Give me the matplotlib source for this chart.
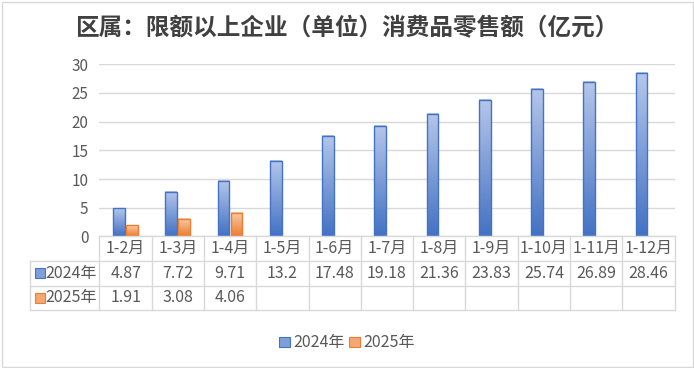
import numpy as np
import matplotlib
matplotlib.use('Agg')
import matplotlib.pyplot as plt
from matplotlib.patches import Rectangle
from matplotlib.colors import LinearSegmentedColormap

plt.rcParams['font.family'] = ['Noto Sans CJK SC', 'DejaVu Sans']

title = '区属：限额以上企业（单位）消费品零售额（亿元）'
categories = ['1-2月', '1-3月', '1-4月', '1-5月', '1-6月', '1-7月', '1-8月',
              '1-9月', '1-10月', '1-11月', '1-12月']
series_names = ['2024年', '2025年']
values_2024 = [4.87, 7.72, 9.71, 13.2, 17.48, 19.18, 21.36, 23.83, 25.74, 26.89, 28.46]
values_2025 = [1.91, 3.08, 4.06]
yticks = [0, 5, 10, 15, 20, 25, 30]

W, H = 694, 368
fig = plt.figure(figsize=(W / 100, H / 100), dpi=100)

# plot area in pixels of the reference
left_px, right_px, top_px, bottom_px = 99.5, 674.5, 64.3, 236.4
ax = fig.add_axes([left_px / W, 1 - bottom_px / H,
                   (right_px - left_px) / W, (bottom_px - top_px) / H])

text_col = '#595959'
grid_col = '#d9d9d9'

blue_cmap = LinearSegmentedColormap.from_list('b', ['#4472c4', '#b4c6ea'])
orange_cmap = LinearSegmentedColormap.from_list('o', ['#ed7d31', '#f9cba8'])
grad = np.linspace(0, 1, 64).reshape(-1, 1)

bar_w = 0.225
offsets = [-0.13, 0.12]


def grad_bar(x, h, cmap, edge):
    x0 = x - bar_w / 2
    ax.imshow(grad, extent=(x0, x0 + bar_w, 0, h), origin='lower', cmap=cmap,
              aspect='auto', zorder=3, interpolation='bicubic')
    ax.add_patch(Rectangle((x0, 0), bar_w, h, fill=False, edgecolor=edge,
                           linewidth=1.0, zorder=4))


for i, v in enumerate(values_2024):
    grad_bar(i + offsets[0], v, blue_cmap, '#4472c4')
for i, v in enumerate(values_2025):
    grad_bar(i + offsets[1], v, orange_cmap, '#ed7d31')

n = len(categories)
ax.set_xlim(-0.5, n - 0.5)
ax.set_ylim(0, 30)
ax.set_yticks(yticks)
ax.set_xticks([])
ax.yaxis.grid(True, color=grid_col, linewidth=1)
ax.set_axisbelow(True)
for s in ax.spines.values():
    s.set_visible(False)
ax.tick_params(axis='y', length=0, pad=8, labelsize=11, labelcolor=text_col)

# data table below the plot
row_px = [236.4, 261, 285.5, 309.5]
head_left_px = 30


def fy(px):
    return 1 - px / H


def fx(px):
    return px / W


col_w = (right_px - left_px) / n
lkw = dict(color=grid_col, linewidth=1, transform=fig.transFigure)
# horizontal lines
fig.add_artist(plt.Line2D([fx(left_px), fx(right_px)], [fy(row_px[0])] * 2, **lkw))
for r in row_px[1:]:
    fig.add_artist(plt.Line2D([fx(head_left_px), fx(right_px)], [fy(r)] * 2, **lkw))
# vertical lines
for j in range(n + 1):
    x = left_px + j * col_w
    fig.add_artist(plt.Line2D([fx(x)] * 2, [fy(row_px[0]), fy(row_px[3])], **lkw))
fig.add_artist(plt.Line2D([fx(head_left_px)] * 2, [fy(row_px[1]), fy(row_px[3])], **lkw))

tkw = dict(fontsize=11.5, color=text_col, ha='center', va='center')
for j, c in enumerate(categories):
    xc = fx(left_px + (j + 0.5) * col_w)
    fig.text(xc, fy((row_px[0] + row_px[1]) / 2), c, **tkw)
    fig.text(xc, fy((row_px[1] + row_px[2]) / 2), f'{values_2024[j]:g}', **tkw)
    if j < len(values_2025):
        fig.text(xc, fy((row_px[2] + row_px[3]) / 2), f'{values_2025[j]:g}', **tkw)

key_cols = [('#7f9fd8', '#4472c4'), ('#f4a772', '#ed7d31')]
for k, name in enumerate(series_names):
    yc = (row_px[k + 1] + row_px[k + 2]) / 2
    fig.add_artist(Rectangle((fx(35), fy(yc + 5)), fx(10), 10 / H,
                             facecolor=key_cols[k][0], edgecolor=key_cols[k][1],
                             linewidth=0.8, transform=fig.transFigure))
    fig.text(fx(45.5), fy(yc), name, fontsize=11.5, color=text_col, ha='left', va='center')

# legend at bottom
leg_y = 342
for k, (name, xs) in enumerate(zip(series_names, [279, 349])):
    fig.add_artist(Rectangle((fx(xs), fy(leg_y + 5)), fx(11), 10.5 / H,
                             facecolor=key_cols[k][0], edgecolor=key_cols[k][1],
                             linewidth=0.8, transform=fig.transFigure))
    fig.text(fx(xs + 14.5), fy(leg_y), name, fontsize=11.5, color=text_col,
             ha='left', va='center')

fig.text(0.5, fy(28), title, fontsize=17, fontweight='bold', color='#404040',
         ha='center', va='center')

# outer chart border
fig.add_artist(Rectangle((fx(2), fy(367)), fx(691), 365 / H, fill=False,
                         edgecolor=grid_col, linewidth=1, transform=fig.transFigure))

fig.savefig('out.png', dpi=100)
